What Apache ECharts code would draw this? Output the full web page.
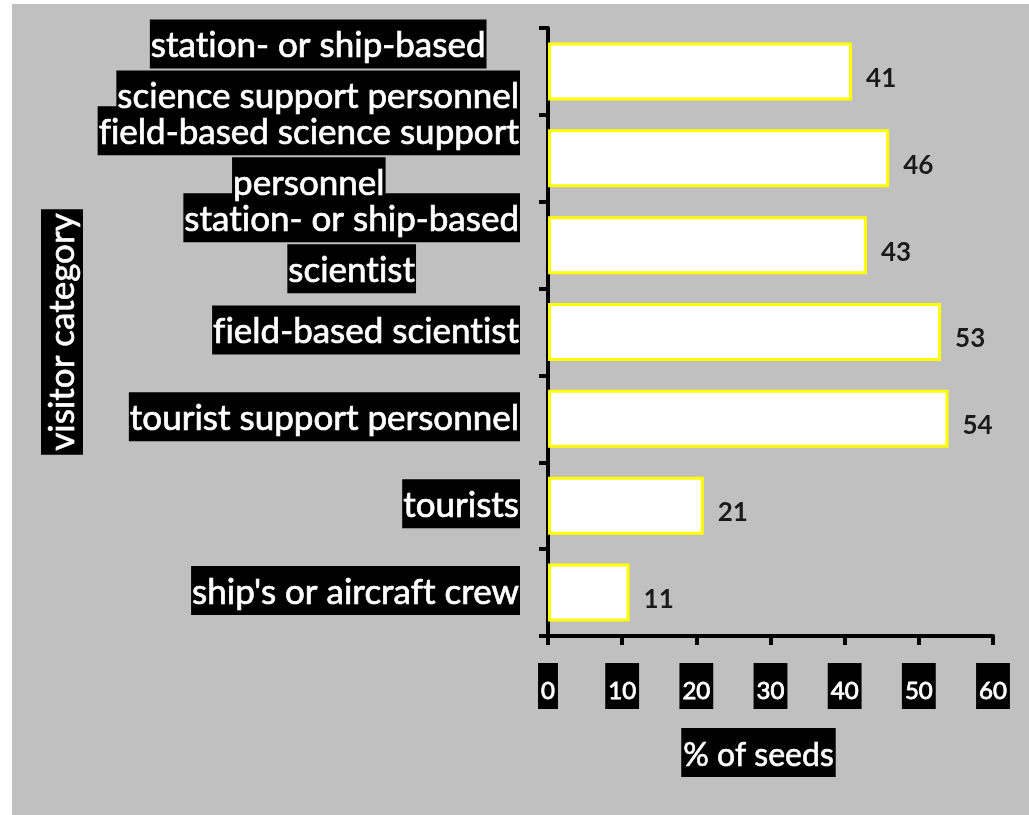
<!DOCTYPE html>
<html><head><meta charset="utf-8">
<script src="https://cdn.jsdelivr.net/npm/echarts@6/dist/echarts.min.js"></script>
<style>
html,body{margin:0;padding:0;background:#ffffff;width:1029px;height:815px;overflow:hidden;}
#c{position:absolute;left:12px;top:4px;width:1017px;height:811px;}
</style></head>
<body><div id="c"></div>
<script>
const categories = [
  'station- or ship-based\nscience support personnel',
  'field-based science support\npersonnel',
  'station- or ship-based\nscientist',
  'field-based scientist',
  'tourist support personnel',
  'tourists',
  "ship's or aircraft crew"
];
const values = [41, 46, 43, 53, 54, 21, 11];
const xTicks = [0, 10, 20, 30, 40, 50, 60];
const xName = '% of seeds';
const yName = 'visitor category';

// draw text without typographic ligatures (as in the reference)
(function () {
  const P = CanvasRenderingContext2D.prototype;
  ['fillText', 'strokeText', 'measureText'].forEach(function (k) {
    const orig = P[k];
    P[k] = function () { try { this.textRendering = 'optimizeSpeed'; } catch (e) {} return orig.apply(this, arguments); };
  });
})();

const FONT = 'Lato';
const richFmt = function (v) { return v.split('\n').map(s => '{a|' + s + '}').join('\n'); };
const tokenBase = {align: 'center', fontFamily: FONT, fontSize: 35, lineHeight: 51, padding: [9, 1, 5, 1]};

const chart = echarts.init(document.getElementById('c'), null, {renderer: 'canvas'});
chart.setOption({
  backgroundColor: '#c0c0c0',
  animation: false,
  grid: {left: 536, top: 24, right: 36, bottom: 179, containLabel: false},
  xAxis: {
    type: 'value', min: xTicks[0], max: xTicks[xTicks.length - 1], interval: 10,
    splitLine: {show: false},
    axisLine: {show: true, lineStyle: {color: '#000', width: 4}},
    axisTick: {show: true, length: 9, lineStyle: {color: '#000', width: 4}},
    axisLabel: {
      margin: 27, color: '#fff', fontFamily: FONT, fontSize: 24, fontWeight: 'normal',
      textBorderColor: '#fff', textBorderWidth: 0.8,
      backgroundColor: '#000', padding: [16, 3, 6, 3]
    },
    name: '{a|' + xName + '}{s|}', nameLocation: 'middle', nameGap: 92,
    nameTextStyle: {
      rich: {
        a: {color: '#fff', fontFamily: FONT, fontSize: 32, backgroundColor: '#000', padding: [12, 2, 5, 2],
            textBorderColor: '#fff', textBorderWidth: 0.6},
        s: {width: 24}
      }
    }
  },
  yAxis: [{
    type: 'category', data: categories, inverse: true,
    axisLine: {show: true, lineStyle: {color: '#000', width: 4}},
    axisTick: {show: true, length: 9, lineStyle: {color: '#000', width: 4}},
    axisLabel: {
      margin: 28, align: 'right', interval: 0, hideOverlap: false, padding: [0, 0, 4, 0],
      formatter: richFmt,
      rich: {a: Object.assign({}, tokenBase, {color: 'rgba(0,0,0,0)', backgroundColor: '#000'})}
    },
    name: yName, nameLocation: 'middle', nameGap: 465, nameRotate: 90,
    nameTextStyle: {color: '#fff', fontFamily: FONT, fontSize: 35, lineHeight: 36,
      textBorderColor: '#fff', textBorderWidth: 0.6,
      backgroundColor: '#000', padding: [4, 4, 2, 4]}
  }, {
    type: 'category', data: categories, inverse: true, position: 'left', offset: 0,
    axisLine: {show: false}, axisTick: {show: false}, splitLine: {show: false},
    axisLabel: {
      margin: 28, align: 'right', interval: 0, hideOverlap: false, padding: [0, 0, 4, 0],
      formatter: richFmt,
      rich: {a: Object.assign({}, tokenBase, {color: '#fff', textBorderColor: '#fff', textBorderWidth: 0.7})}
    }
  }],
  series: [{
    type: 'bar', data: values, barWidth: 58, yAxisIndex: 0,
    itemStyle: {color: '#ffffff', borderColor: '#ffff00', borderWidth: 3},
    label: {show: true, position: 'right', distance: 14, offset: [0, 7], color: '#1a1a1a',
            fontFamily: FONT, fontSize: 26, fontWeight: 'bold'}
  }]
});
</script></body></html>
